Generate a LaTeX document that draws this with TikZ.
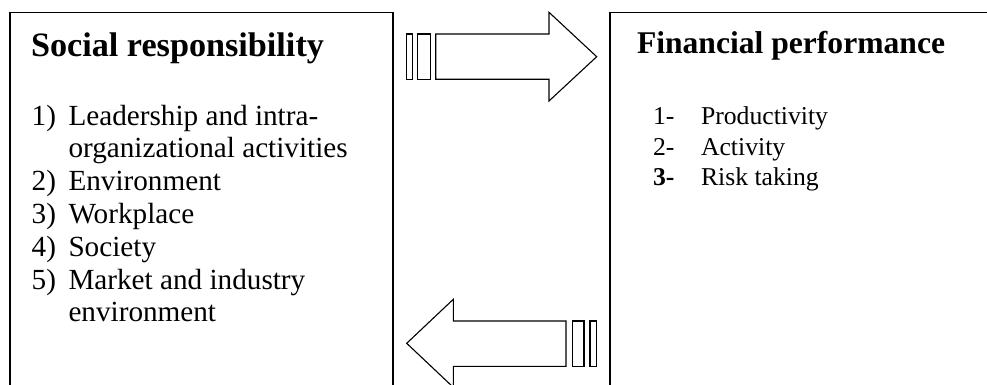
\documentclass[tikz,border=0pt]{standalone}
\usepackage{fontspec}
\setmainfont{Liberation Serif}
\begin{document}
\begin{tikzpicture}[x=1pt,y=-1pt,
  boxframe/.style={draw=black, line width=1.4pt, inner sep=0pt, outer sep=0pt},
  blockarrow/.style={draw=black, line width=1.1pt, fill=white, line join=miter},
  txt/.style={anchor=base west, inner sep=0pt, outer sep=0pt},
  titleL/.style={txt, font=\fontsize{34.2pt}{40pt}\selectfont\bfseries},
  titleR/.style={txt, font=\fontsize{31.6pt}{38pt}\selectfont\bfseries},
  itemL/.style={txt, font=\fontsize{29.2pt}{33pt}\selectfont},
  itemR/.style={txt, font=\fontsize{25.7pt}{30pt}\selectfont}]
\useasboundingbox (0,0) rectangle (987,385);
\clip (0,0) rectangle (987,385);

% boxes
\node[boxframe, minimum width=383pt, minimum height=420pt] (social) at (201.5,222.3) {};
\node[boxframe, minimum width=420pt, minimum height=420pt] (financial) at (820,222.3) {};

% left box text
\node[titleL] (tl) at (31,56.7) {Social responsibility};
\node[itemL] (n1) at (31.7,125) {1)};
\node[itemL] (t1) at (68.5,125) {Leadership and intra-};
\node[itemL] (t1b) at (68.5,157.8) {organizational activities};
\node[itemL] (n2) at (31.7,190.6) {2)};
\node[itemL] (t2) at (68.5,190.6) {Environment};
\node[itemL] (n3) at (31.7,223.4) {3)};
\node[itemL] (t3) at (68.5,223.4) {Workplace};
\node[itemL] (n4) at (31.7,256.2) {4)};
\node[itemL] (t4) at (68.5,256.2) {Society};
\node[itemL] (n5) at (31.7,289) {5)};
\node[itemL] (t5) at (68.5,289) {Market and industry};
\node[itemL] (t5b) at (68.5,321.8) {environment};

% right box text
\node[titleR] (tr) at (637,53.3) {Financial performance};
\node[itemR] (m1) at (653,124.5) {1-};
\node[itemR] (r1) at (701,124.5) {Productivity};
\node[itemR] (m2) at (653,155) {2-};
\node[itemR] (r2) at (701,155) {Activity};
\node[itemR] (m3) at (653,185.5) {\bfseries 3-};
\node[itemR] (r3) at (701,185.5) {Risk taking};

% upper striped arrow (to the right)
\draw[blockarrow] (406.7,34) rectangle (412.3,79.3);
\draw[blockarrow] (417.7,34) rectangle (430.7,79.3);
\draw[blockarrow] (435.7,34) -- (549,34) -- (549,12.3) -- (596.7,56.7)
  -- (549,101) -- (549,79.3) -- (435.7,79.3) -- cycle;

% lower striped arrow (to the left)
\draw[blockarrow] (566,321) -- (453.3,321) -- (453.3,299.3) -- (406.7,343.3)
  -- (453.3,387.3) -- (453.3,366.3) -- (566,366.3) -- cycle;
\draw[blockarrow] (572.3,321) rectangle (584,366.3);
\draw[blockarrow] (590,321) rectangle (596.7,366.3);
\end{tikzpicture}
\end{document}
